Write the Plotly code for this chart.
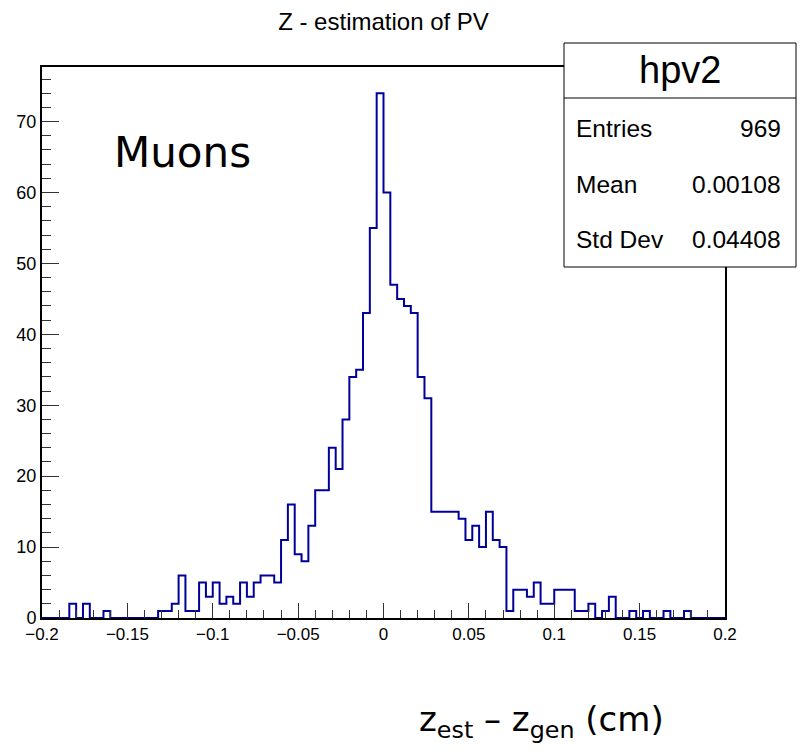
import numpy as np
import plotly.graph_objects as go

# Histogram definition (100 bins from -0.2 to 0.2)
x_min, x_max, n_bins = -0.2, 0.2, 100
counts = [0, 0, 0, 0, 2, 0, 2, 0, 0, 1,
          0, 0, 0, 0, 0, 0, 0, 1, 1, 2,
          6, 1, 1, 5, 3, 5, 2, 3, 2, 5,
          3, 5, 6, 6, 5, 11, 16, 9, 8, 13,
          18, 18, 24, 21, 28, 34, 35, 43, 55, 74,
          60, 47, 45, 44, 43, 34, 31, 15, 15, 15,
          15, 14, 11, 13, 10, 15, 11, 10, 1, 4,
          4, 3, 5, 2, 2, 4, 4, 4, 1, 1,
          2, 0, 1, 3, 0, 0, 1, 0, 1, 0,
          0, 1, 0, 0, 1, 0, 0, 0, 0, 0]

title_text = "Z - estimation of PV"
hist_name = "hpv2"
stats_labels = ["Entries", "Mean", "Std Dev"]
stats_values = ["969", "0.00108", "0.04408"]
label_text = "Muons"
x_title = "z<sub>est</sub> – z<sub>gen</sub> (cm)"
x_ticks = [-0.2, -0.15, -0.1, -0.05, 0, 0.05, 0.1, 0.15, 0.2]
x_tick_text = ["−0.2", "−0.15", "−0.1", "−0.05", "0", "0.05", "0.1", "0.15", "0.2"]
y_ticks = [0, 10, 20, 30, 40, 50, 60, 70]

edges = np.linspace(x_min, x_max, n_bins + 1)
ys = list(counts) + [counts[-1]]

ROOTFONT = "Liberation Sans, Arial, sans-serif"
LINECOL = "#000099"

fig = go.Figure()
fig.add_trace(go.Scatter(x=edges, y=ys, mode="lines", line_shape="hv",
                         line=dict(color=LINECOL, width=2), hoverinfo="skip",
                         showlegend=False))

W, H = 800, 752
L, R, T, B = 42, 75, 67, 134
pw, ph = W - L - R, H - T - B

def px(x):
    return (x - L) / pw

def py(y):
    return (H - B - y) / ph

fig.update_layout(
    width=W, height=H,
    margin=dict(l=L, r=R, t=T, b=B),
    paper_bgcolor="white", plot_bgcolor="white",
    showlegend=False,
    title=dict(text=title_text, x=px(383.5), xref="paper", xanchor="center",
               y=1 - 22 / H, yanchor="middle",
               font=dict(family=ROOTFONT, size=24, color="black")),
    xaxis=dict(range=[x_min, x_max], tickvals=x_ticks, ticktext=x_tick_text,
               ticks="inside", ticklen=15, tickwidth=1, tickcolor="#333",
               minor=dict(dtick=0.01, tick0=0, ticks="inside", ticklen=8, tickwidth=1, tickcolor="#333"),
               showgrid=False, zeroline=False,
               showline=True, linecolor="black", linewidth=2, mirror=True,
               tickfont=dict(family=ROOTFONT, size=17, color="black")),
    yaxis=dict(range=[0, 77.7], tickvals=y_ticks,
               ticks="inside", ticklen=17, tickwidth=1, tickcolor="#333",
               minor=dict(dtick=2, tick0=0, ticks="inside", ticklen=9, tickwidth=1, tickcolor="#333"),
               showgrid=False, zeroline=False,
               showline=True, linecolor="black", linewidth=2, mirror=True,
               tickfont=dict(family=ROOTFONT, size=18, color="black")),
)

# Stats box
bx0, bx1, by0, by1, bdiv = 564, 796, 43, 267, 98
fig.add_shape(type="rect", xref="paper", yref="paper",
              x0=px(bx0), x1=px(bx1), y0=py(by1), y1=py(by0),
              fillcolor="white", line=dict(color="black", width=1), layer="above")
fig.add_shape(type="line", xref="paper", yref="paper",
              x0=px(bx0), x1=px(bx1), y0=py(bdiv), y1=py(bdiv),
              line=dict(color="black", width=1), layer="above")

annots = []
annots.append(dict(text=hist_name, x=px((bx0 + bx1) / 2), y=py(70), xref="paper", yref="paper",
                   xanchor="center", yanchor="middle", showarrow=False,
                   font=dict(family=ROOTFONT, size=38, color="black")))
rows_y = [128, 184, 240]
for lab, val, yy in zip(stats_labels, stats_values, rows_y):
    annots.append(dict(text=lab, x=px(574), y=py(yy), xref="paper", yref="paper",
                       xanchor="left", yanchor="middle", showarrow=False,
                       font=dict(family=ROOTFONT, size=24.5, color="black")))
    annots.append(dict(text=val, x=px(783), y=py(yy), xref="paper", yref="paper",
                       xanchor="right", yanchor="middle", showarrow=False,
                       font=dict(family=ROOTFONT, size=24.5, color="black")))
annots.append(dict(text=label_text, x=px(112), y=py(152), xref="paper", yref="paper",
                   xanchor="left", yanchor="middle", showarrow=False,
                   font=dict(family="DejaVu Sans", size=42, color="black")))
annots.append(dict(text=x_title, x=px(666), y=py(721), xref="paper", yref="paper",
                   xanchor="right", yanchor="middle", showarrow=False,
                   font=dict(family="DejaVu Sans", size=34, color="black")))
fig.update_layout(annotations=annots)

fig.write_html("out.html")
